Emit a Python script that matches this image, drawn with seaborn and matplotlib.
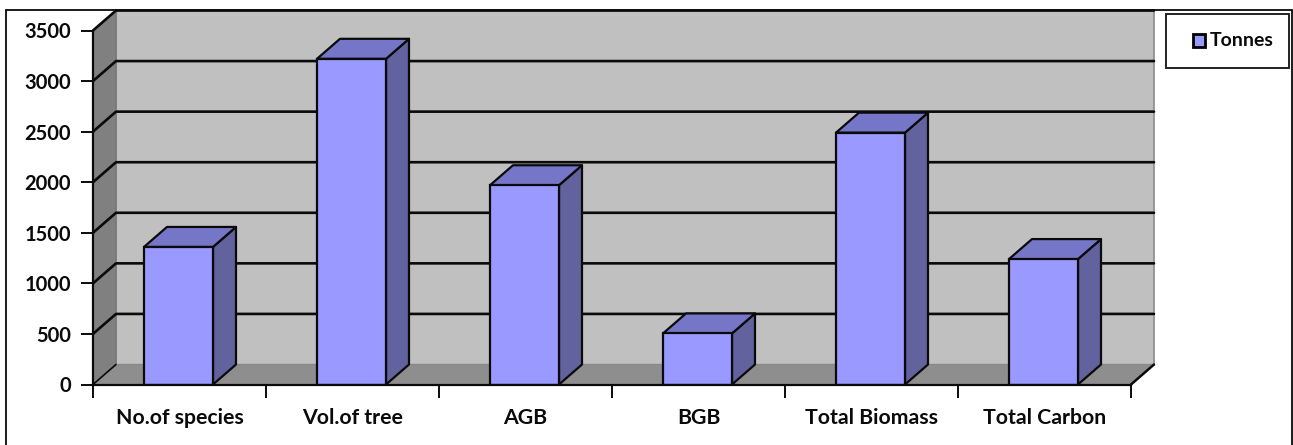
import matplotlib
matplotlib.use("Agg")
import matplotlib.pyplot as plt
from matplotlib.patches import Polygon, Rectangle
from matplotlib.lines import Line2D
import pandas as pd
import seaborn as sns

categories = ["No.of species", "Vol.of tree", "AGB", "BGB", "Total Biomass", "Total Carbon"]
tonnes = [1360, 3220, 1970, 505, 2490, 1240]
y_ticks = [0, 500, 1000, 1500, 2000, 2500, 3000, 3500]
series_name = "Tonnes"

W, H = 1293, 445
FRONT, SIDE, TOP = "#9999FF", "#62629F", "#7676C8"
WALL, SIDE_WALL, FLOOR = "#C0C0C0", "#808080", "#8E8E8E"
INK = "#0A0A0A"

sns.set_theme(style="white")
plt.rcParams["font.family"] = ["Lato", "DejaVu Sans"]
plt.rcParams["font.weight"] = "bold"

fig = plt.figure(figsize=(W / 100, H / 100), dpi=100)
fig.patch.set_facecolor("white")

# Plot rectangle of the front plane, given in pixels
left, right, top, bottom = 93, 1131, 30.5, 384.5
ax = fig.add_axes([left / W, 1 - bottom / H, (right - left) / W, (bottom - top) / H])

frame = pd.DataFrame({"category": categories, "tonnes": tonnes})
sns.barplot(data=frame, x="category", y="tonnes", order=categories, color=FRONT,
            saturation=1, width=69 / 173, edgecolor=INK, linewidth=1.6, ax=ax, zorder=6)
ax.set_xlim(-0.5, 5.5)
ax.set_ylim(0, 3500)
ax.set_xlabel("")
ax.set_ylabel("")
ax.patch.set_alpha(0)

# Oblique depth of the pseudo-3D box, in data units
dx = 23 / 173
dy = 20 / (bottom - top) * 3500
x0, x1 = -0.5, 5.5
y_top = 3500


def poly(points, face, z, edge="none", lw=0):
    ax.add_patch(Polygon(points, closed=True, facecolor=face, edgecolor=edge,
                         linewidth=lw, zorder=z, clip_on=False, joinstyle="round"))


# Back wall, side wall and floor
poly([(x0 + dx, dy), (x1 + dx, dy), (x1 + dx, y_top + dy), (x0 + dx, y_top + dy)], WALL, 1,
     edge="#8A8A8A", lw=1.2)
poly([(x0, 0), (x0 + dx, dy), (x0 + dx, y_top + dy), (x0, y_top)], SIDE_WALL, 1.5,
     edge="#777777", lw=1)
poly([(x0, 0), (x1, 0), (x1 + dx, dy), (x0 + dx, dy)], FLOOR, 1.5, edge="#8A8A8A", lw=1)

# Gridlines wrap from the side wall onto the back wall
for v in y_ticks[1:]:
    ax.plot([x0, x0 + dx, x1 + dx], [v, v + dy, v + dy], color=INK, lw=1.9,
            zorder=2, clip_on=False, solid_joinstyle="round")
ax.plot([x0, x0 + dx], [0, dy], color=INK, lw=1.2, zorder=2, clip_on=False)
ax.plot([x1, x1 + dx], [0, dy], color=INK, lw=1.8, zorder=2, clip_on=False)

# Side and top faces built from the front face of each bar
for bar in ax.patches[:len(categories)]:
    bar.set_x(bar.get_x() - 1 / 173)
    a, b = bar.get_x(), bar.get_x() + bar.get_width()
    h = bar.get_height()
    poly([(b, 0), (b + dx, dy), (b + dx, h + dy), (b, h)], SIDE, 5, edge=INK, lw=1.6)
    poly([(a, h), (b, h), (b + dx, h + dy), (a + dx, h + dy)], TOP, 5, edge=INK, lw=1.6)

# Axes lines and ticks
sns.despine(ax=ax, top=True, right=True)
for name in ("left", "bottom"):
    ax.spines[name].set_color(INK)
    ax.spines[name].set_linewidth(1.6)
    ax.spines[name].set_zorder(7)
ax.set_yticks(y_ticks)
ax.tick_params(axis="y", length=9, width=1.4, color=INK, labelcolor=INK, labelsize=14.5, pad=7,
               left=True)
ax.set_xticks(range(len(categories)))
ax.set_xticklabels(categories)
ax.tick_params(axis="x", which="major", length=0, labelcolor=INK, labelsize=15.3, pad=17)
ax.set_xticks([i - 0.5 for i in range(len(categories) + 1)], minor=True)
ax.tick_params(axis="x", which="minor", length=9, width=1.4, color=INK, bottom=True)

# Chart border, open at the lower edge of the image
for xs, ys in (([6, 6], [445, 10]), ([6, 1292], [10, 10]), ([1292, 1292], [10, 445])):
    fig.add_artist(Line2D([x / W for x in xs], [1 - y / H for y in ys], color=INK, lw=1.3))

# Legend box
fig.add_artist(Rectangle((1166 / W, 1 - 68 / H), 123 / W, 54 / H, transform=fig.transFigure,
                         facecolor="white", edgecolor="#222222", linewidth=1.4))
fig.add_artist(Rectangle((1192.5 / W, 1 - 46.5 / H), 12 / W, 12 / H, transform=fig.transFigure,
                         facecolor=FRONT, edgecolor="black", linewidth=2))
fig.text(1209.5 / W, 1 - 40.5 / H, series_name, fontsize=14, color=INK, va="center", ha="left")

fig.savefig("out.png", dpi=100)
